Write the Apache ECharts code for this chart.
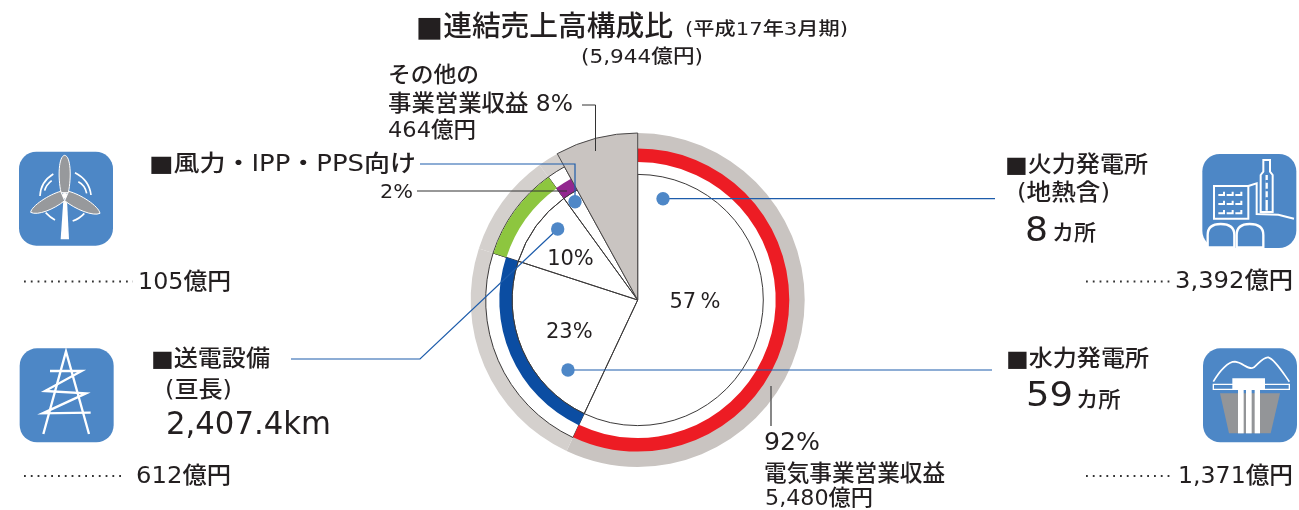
<!DOCTYPE html>
<html><head><meta charset="utf-8">
<style>html,body{margin:0;padding:0;background:#fff}#c{width:1299px;height:510px}</style>
<script src="https://cdn.jsdelivr.net/npm/echarts@6/dist/echarts.min.js"></script>
</head><body><div id="c"></div>
<script>
// ---- data ----
const categories = ['火力発電所','水力発電所','送電設備','風力・IPP・PPS向け','その他の事業営業収益'];
const shares = [57, 23, 10, 2, 8];
const totalSales = ['5,944億円'];
const salesOku = ['3,392億円','1,371億円','612億円','105億円','464億円','5,480億円'];
const electricShare = [92];
const plantCounts = ['8','59'];
const lineLength = ['2,407.4km'];

// ---- style ----
const FONT = '"DejaVu Sans","Noto Sans CJK JP",sans-serif';
const INK = '#231f20', LEAD = '#1d5cab', DOT = '#4e87c7', TILE = '#4d87c6';
const GREY = '#c9c4c1', GREY2 = '#d4d0cd';
const CENTER = [637.7, 300];
const NONE = {color:'transparent', borderWidth:0};

function ring(radius, styleOf, extra){
  return Object.assign({type:'pie', center:CENTER, radius, startAngle:90, clockwise:true,
    silent:true, animation:false, avoidLabelOverlap:false, labelLine:{show:false},
    label:{show:false}, emphasis:{disabled:true},
    data:shares.map((v,i)=>({name:categories[i], value:v, itemStyle:styleOf(i)}))}, extra||{});
}
const pctOffset = [[-7,-12],[-8,6],[-14,-2]];
const series = [
  ring([150,167], i=> i===0?{color:GREY}: i<4?{color:GREY2}:NONE),
  ring([125.6,152], i=> (i===0||i===4)?NONE:{color:'#fff',borderColor:'#3c3a3a',borderWidth:1}),
  ring([138,151.6], i=> i===0?{color:'#ed1c24'}: i===2?{color:'#8dc63f'}:NONE),
  ring([125.6,138.4], i=> i===1?{color:'#0b4da2'}: i===3?{color:'#92278f'}:NONE),
  ring([0,125.6], i=> NONE, {
    data:shares.map((v,i)=>({name:categories[i], value:v,
      itemStyle: i===4?NONE:{color:'rgba(255,255,255,0)',borderColor:'#3c3a3a',borderWidth:1},
      label: i<3?{show:true, position:'inside', formatter:i===0?'{c}\u2009%':'{c}%', fontFamily:FONT, fontSize:21, color:INK,
        offset:pctOffset[i]}:{show:false}}))
  }),
  ring([0,167], i=> i===4?{color:GREY,borderColor:'#4a4848',borderWidth:1}:NONE)
];

// ---- annotations ----
let shapeId = 0;
const measure = document.createElement('canvas').getContext('2d');
// text fitted horizontally to the width it has in the reference
const T=(x,y,text,size,w,weight)=>{
  const fw = weight||500;
  measure.font = fw+' '+size+'px '+FONT;
  const k = w ? w/measure.measureText(text).width : 1;
  return {type:'text',x,y:y+1,scaleX:k,z:10,silent:true,style:{text,fontFamily:FONT,fontSize:size,
    fontWeight:fw,fill:INK,align:'left',verticalAlign:'middle'}};
};
const P=(d,style)=>{const name='svgp'+(shapeId++);
  echarts.graphic.registerShape(name, echarts.graphic.extendPath(d));
  return {type:name,z:5,silent:true,shape:{},style};};
const LINE=(d,c,w)=>P(d,{fill:'none',stroke:c,lineWidth:w||1});
const DOTS=(x1,x2,y)=>({type:'line',z:5,silent:true,shape:{x1,y1:y,x2,y2:y},style:{stroke:'#333',lineWidth:1.8,lineDash:[1.8,5],lineCap:'butt'}});
const CIRC=(cx,cy)=>({type:'circle',z:6,silent:true,shape:{cx,cy,r:6.7},style:{fill:DOT}});
const ICON=(ox,oy,children)=>({type:'group',x:ox,y:oy,scaleX:1/3,scaleY:1/3,z:5,silent:true,children});
const W={fill:'#fff'};
const tile=(x,y)=>({type:'rect',shape:{x,y,width:282,height:282,r:52},style:{fill:TILE}});
const BL={fill:'#97999c',stroke:'#fff',lineWidth:3};

const windIcon = ICON(0,140,[
  tile(57,35),
  P('M190,180 L201,180 L207,298 L182,298 Z',W),
  P('M183,158 C173,110 176,48 194,46 C212,48 215,110 205,158 Z',BL),
  P('M206,154 C242,163 296,198 300,220 C280,230 226,208 194,182 Z',BL),
  P('M182,154 C148,163 94,198 92,217 C112,228 162,208 194,182 Z',BL),
  {type:'circle',shape:{cx:194,cy:167,r:9},style:{fill:'#fff',stroke:'#97999c',lineWidth:1}},
  LINE('M120,168 Q122,125 160,102','#fff',5), LINE('M134,152 Q138,135 155,122','#fff',5),
  LINE('M225,98 Q268,120 273,165','#fff',5), LINE('M235,125 Q255,135 260,160','#fff',5),
  LINE('M137,218 Q150,232 165,240','#fff',5), LINE('M218,243 Q240,235 253,220','#fff',5)
]);
const towerIcon = ICON(0,140,[
  tile(59,625),
  LINE('M130,882 L198,634 L267,882','#fff',7),
  LINE('M150,693 L245,693 L135,753 L258,760 L128,820 L272,818','#fff',7)
]);
const thermalIcon = ICON(1000,140,[
  tile(607,42),
  P('M790,60 L810,60 L810,95 L818,105 L818,216 L782,216 L782,105 L790,95 Z',{fill:TILE,stroke:'#fff',lineWidth:6}),
  LINE('M800,105 L800,212','#fff',7) ,
  P('M800,120 L800,128 M800,146 L800,154 M800,172 L800,180',{fill:'none',stroke:TILE,lineWidth:8}),
  LINE('M745,138 L770,130 L770,222 L835,224 L882,236','#fff',6),
  P('M642,138 L745,138 L745,236 L642,236 Z',{fill:TILE,stroke:'#fff',lineWidth:6}),
  LINE('M655,165 L672,165 L672,155 M680,165 L698,165 L698,155 M706,165 L724,165 L724,155 M655,192 L672,192 L672,182 M680,192 L698,192 L698,182 M706,192 L724,192 L724,182 M655,220 L672,220 L672,210 M680,220 L698,220 L698,210 M706,220 L724,220 L724,210','#fff',6),
  P('M623,322 L623,285 Q623,252 662,252 Q703,252 703,285 L703,322 Z',{fill:TILE,stroke:'#fff',lineWidth:7}),
  P('M710,322 L710,285 Q710,252 749,252 Q790,252 790,285 L790,322 Z',{fill:TILE,stroke:'#fff',lineWidth:7})
]);
const hydroIcon = ICON(1000,140,[
  tile(609,625),
  LINE('M640,725 C660,690 685,665 705,665 C730,668 745,692 762,682 C778,668 790,650 805,652 C825,658 850,700 868,725','#fff',5),
  P('M660,760 L840,760 L812,880 L687,880 Z',{fill:'#939598'}),
  P('M640,733 L868,733 L868,748 L640,748 Z',{fill:TILE,stroke:'#fff',lineWidth:4}),
  P('M697,715 L795,715 L795,750 L697,750 Z',W),
  P('M714,748 L731,748 L731,880 L714,880 Z',W),
  P('M738,748 L755,748 L755,880 L738,880 Z',W),
  P('M764,748 L780,748 L780,880 L764,880 Z',W)
]);

const graphics = [
  windIcon,towerIcon,thermalIcon,hydroIcon,
  // title
  T(416,28,'■連結売上高構成比',28.4,257),
  T(685,29,'(平成17年3月期)',18.5,163),
  T(581,57,'('+totalSales[0]+')',19.5,122),
  // other
  T(388,75,categories[4].slice(0,4),22,91),
  T(388,104,categories[4].slice(4)+' '+shares[4]+'%',22.5,185),
  T(388,130,salesOku[4],22,88),
  LINE('M582,105 L595.5,105 L595.5,151','#333',1),
  // wind / IPP
  T(149,164,'■'+categories[3],22.5,267),
  T(380,192,shares[3]+'%',20,33),
  LINE('M420,164 L575,164 L575,201',LEAD,1.2),
  LINE('M417,191 L567,191','#333',1.2),
  CIRC(575,201.7),
  DOTS(24,133,281.5), T(138,282,salesOku[3],23,93),
  // transmission
  T(151,359,'■'+categories[2],22.5,119),
  T(165,390,'(亘長)',22.5,67),
  T(166,425,lineLength[0],32,165),
  LINE('M291,359 L420,359 L557.7,229',LEAD,1.2),
  CIRC(557.7,229),
  DOTS(24,126,476), T(136,476,salesOku[2],23,95),
  // thermal
  T(1005,165,'■'+categories[0],22.5,143),
  T(1017,193,'(地熱含)',22.5,93),
  T(1025,231,plantCounts[0],34,23), T(1052,233,'カ所',22,44),
  LINE('M663,198.7 L995,198.7',LEAD,1.2),
  CIRC(663,198.7),
  DOTS(1086,1172,281.5), T(1175,281.5,salesOku[0],23,118),
  // hydro
  T(1006,359,'■'+categories[1],22.5,143),
  T(1026,396,plantCounts[1],34,47), T(1076,400,'カ所',22,44.7),
  LINE('M568,370 L992,370',LEAD,1.2),
  CIRC(568,370),
  DOTS(1086,1172,476), T(1178,476,salesOku[1],23,115),
  // electric total
  LINE('M771,386 L771,426','#555',1.4),
  T(764,443,electricShare[0]+'%',24,56),
  T(764,474,'電気事業営業収益',22.5,181),
  T(765,498,salesOku[5],22,108)
];

const chart = echarts.init(document.getElementById('c'),null,{renderer:'canvas'});
chart.setOption({backgroundColor:'#fff',animation:false,series,graphic:{elements:graphics}});
</script></body></html>
